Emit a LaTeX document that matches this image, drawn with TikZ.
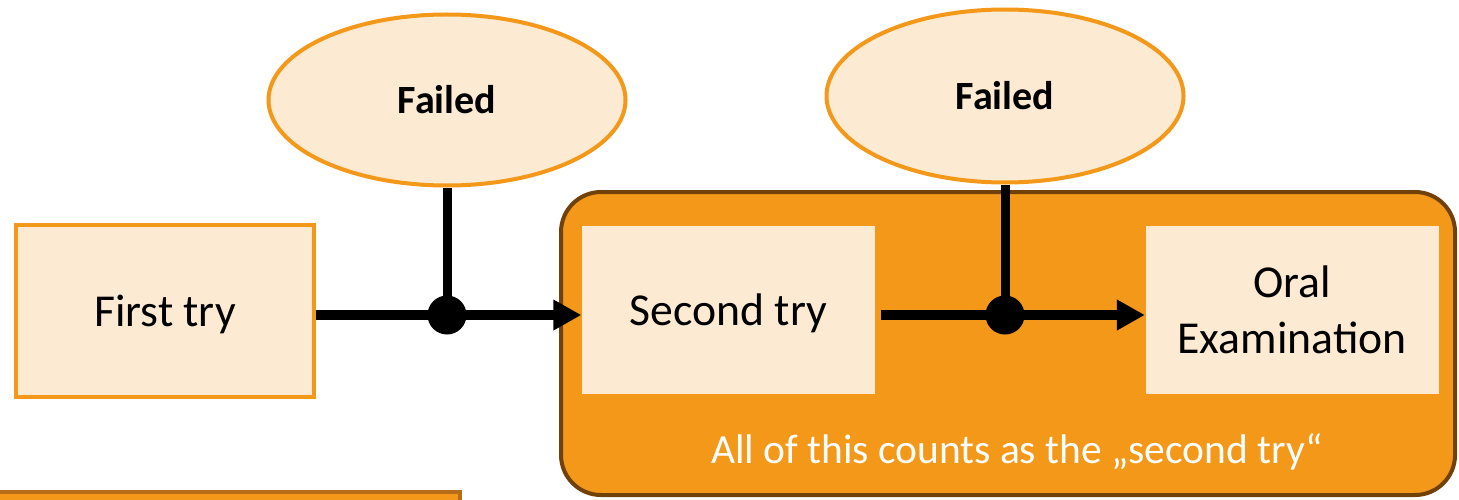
\documentclass[tikz,border=0pt]{standalone}
\usepackage{fontspec}
\setmainfont{Carlito}
\usetikzlibrary{arrows.meta,shapes.geometric}
\definecolor{peach}{RGB}{253,234,210}
\definecolor{tryorange}{RGB}{243,152,25}
\definecolor{trybrown}{RGB}{112,66,10}
\definecolor{edgeorange}{RGB}{182,108,24}
\tikzset{
    trybox/.style={rectangle, fill=peach, inner sep=0pt,
        minimum width=2.93cm, minimum height=1.68cm,
        font=\fontsize{13}{15.9}\selectfont},
    oneline/.style={text height=10pt, text depth=1pt},
    failbubble/.style={ellipse, draw=tryorange, fill=peach, line width=0.04cm,
        inner sep=0pt, minimum width=3.57cm, minimum height=1.71cm,
        font=\fontsize{11.4}{13.7}\selectfont\bfseries},
    flow/.style={line width=0.095cm, -{Triangle[length=0.28cm,width=0.29cm]}},
    branch/.style={line width=0.09cm},
    fork/.style={circle, fill=black, inner sep=0pt, minimum size=0.39cm},
}
\begin{document}
\begin{tikzpicture}
    \clip (0,0) rectangle (14.59,4.99);
    \path[coordinate] (1.65,1.88)  coordinate(P1)
                (7.285,1.89) coordinate(P2)
                (12.92,1.89) coordinate(P3)
                (4.47,3.99) coordinate(F1)
                (10.05,4.03) coordinate(F2);

    \draw[edgeorange, fill=tryorange, line width=0.04cm] (-0.2,-0.5) rectangle (4.60,0.075);
    \draw[trybrown, fill=tryorange, line width=0.04cm, rounded corners=0.4cm]
        (5.61,0.04) rectangle (14.55,3.07);

    \node[trybox, oneline, draw=tryorange, line width=0.04cm,
        minimum width=2.97cm, minimum height=1.72cm] (first) at (P1) {First try};
    \node[trybox, oneline] (second) at (P2) {Second try};
    \node[trybox, align=center] (oral) at (P3) {Oral\\Examination};
    \node[text=white, anchor=base, font=\fontsize{11.8}{14}\selectfont] (note)
        at (10.17,0.36) {All of this counts as the „second try“};

    \node[failbubble] (failA) at (F1) {Failed};
    \node[failbubble, minimum height=1.73cm] (failB) at (F2) {Failed};

    \node[fork] (forkA) at (4.47,1.84) {};
    \node[fork] (forkB) at (10.05,1.84) {};

    \draw[flow] (first.east |- forkA) -- (second.west |- forkA);
    \draw[flow, shorten <=0.05cm] (second.east |- forkB) -- (oral.west |- forkB);
    \draw[branch] (failA.south) -- (forkA.center);
    \draw[branch] (failB.south) -- (forkB.center);
\end{tikzpicture}
\end{document}
